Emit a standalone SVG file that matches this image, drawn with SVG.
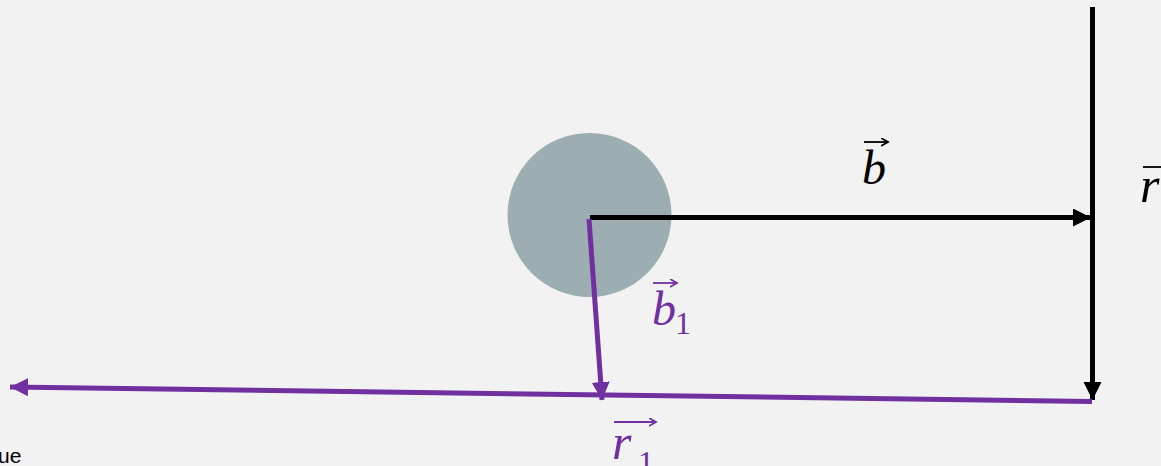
<svg xmlns="http://www.w3.org/2000/svg" width="1161" height="466" viewBox="0 0 1161 466">
<style>
.m{font-family:"Liberation Serif",serif;font-style:italic}
.s{font-family:"Liberation Serif",serif}
.bk{stroke:#000;stroke-width:5;fill:none}
.pu{stroke:#7030a0;stroke-width:5;fill:none}
</style>
<defs>
<marker id="ab" markerUnits="userSpaceOnUse" markerWidth="20" markerHeight="20" refX="18" refY="9" orient="auto"><path d="M0,0 L18,9 L0,18 Z" fill="#000"/></marker>
<marker id="ap" markerUnits="userSpaceOnUse" markerWidth="20" markerHeight="20" refX="18" refY="9" orient="auto"><path d="M0,0 L18,9 L0,18 Z" fill="#7030a0"/></marker>
<marker id="tb" markerUnits="userSpaceOnUse" markerWidth="10" markerHeight="10" refX="7" refY="4" orient="auto"><path d="M0,0 L7,4 L0,8" fill="none" stroke="#000" stroke-width="1.8"/></marker>
<marker id="tp" markerUnits="userSpaceOnUse" markerWidth="10" markerHeight="10" refX="7" refY="4" orient="auto"><path d="M0,0 L7,4 L0,8" fill="none" stroke="#7030a0" stroke-width="1.8"/></marker>
</defs>
<rect width="1161" height="466" fill="#f2f2f2"/>
<g id="mass"><circle cx="589.5" cy="215" r="82" fill="#9daeb3"/></g>
<g id="connectors">
<line class="bk" x1="590" y1="217.5" x2="1091" y2="217.5" marker-end="url(#ab)"/>
<line class="bk" x1="1092.5" y1="7" x2="1092.5" y2="400" marker-end="url(#ab)"/>
<line class="pu" x1="1092" y1="401.5" x2="10" y2="387" marker-end="url(#ap)"/>
<line class="pu" x1="589" y1="219" x2="602" y2="400" marker-end="url(#ap)"/>
</g>
<g id="label-b">
<text class="m" x="862" y="184" font-size="48">b</text>
<line x1="864" y1="142" x2="888" y2="142" stroke="#000" stroke-width="1.8" marker-end="url(#tb)"/>
</g>
<g id="label-r">
<text class="m" x="1140" y="202" font-size="50">r</text>
<line x1="1143" y1="167" x2="1175" y2="167" stroke="#000" stroke-width="1.8" marker-end="url(#tb)"/>
</g>
<g id="label-b1" fill="#7030a0">
<text class="m" x="652" y="325" font-size="48">b</text>
<text class="s" x="675" y="334" font-size="32">1</text>
<line x1="653" y1="283" x2="677" y2="283" stroke="#7030a0" stroke-width="1.8" marker-end="url(#tp)"/>
</g>
<g id="label-r1" fill="#7030a0">
<text class="m" x="612" y="459" font-size="50">r</text>
<text class="s" x="638" y="473" font-size="32">1</text>
<line x1="614" y1="422" x2="656" y2="422" stroke="#7030a0" stroke-width="1.8" marker-end="url(#tp)"/>
</g>
<g id="label-ue"><text x="-2" y="463" font-family="Liberation Sans, sans-serif" font-size="21" fill="#000">ue</text></g>
</svg>
